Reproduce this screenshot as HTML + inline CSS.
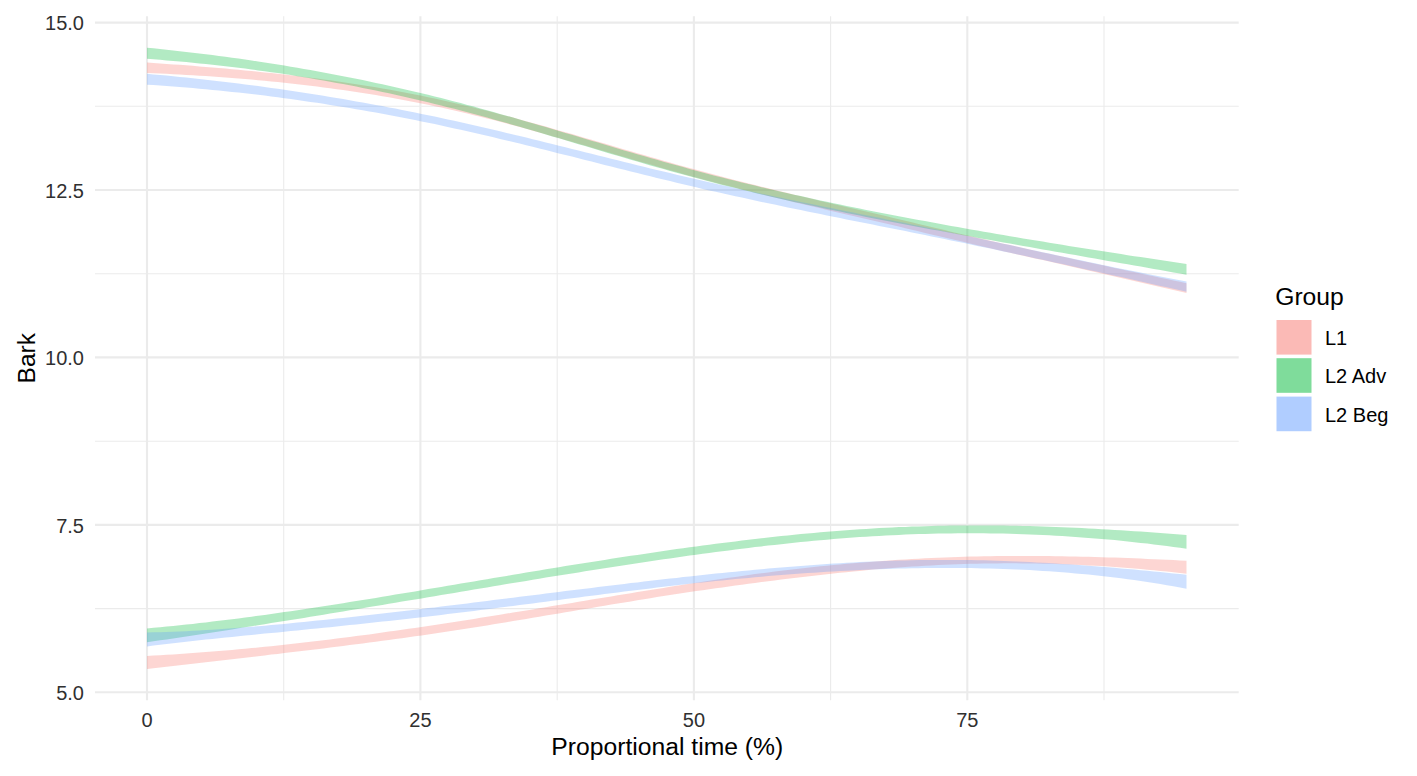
<!DOCTYPE html>
<html><head><meta charset="utf-8"><style>
html,body{margin:0;padding:0;background:#fff;width:1417px;height:776px;overflow:hidden}
svg{display:block;font-family:"Liberation Sans",sans-serif}
</style></head><body>
<svg width="1417" height="776" viewBox="0 0 1417 776">
<rect width="1417" height="776" fill="#fff"/>
<line x1="95.0" x2="1238.7" y1="106.3" y2="106.3" stroke="#EBEBEB" stroke-width="1.1"/>
<line x1="95.0" x2="1238.7" y1="273.7" y2="273.7" stroke="#EBEBEB" stroke-width="1.1"/>
<line x1="95.0" x2="1238.7" y1="441.2" y2="441.2" stroke="#EBEBEB" stroke-width="1.1"/>
<line x1="95.0" x2="1238.7" y1="608.6" y2="608.6" stroke="#EBEBEB" stroke-width="1.1"/>
<line x1="283.7" x2="283.7" y1="16.2" y2="700.3" stroke="#EBEBEB" stroke-width="1.1"/>
<line x1="557.2" x2="557.2" y1="16.2" y2="700.3" stroke="#EBEBEB" stroke-width="1.1"/>
<line x1="830.6" x2="830.6" y1="16.2" y2="700.3" stroke="#EBEBEB" stroke-width="1.1"/>
<line x1="1104.0" x2="1104.0" y1="16.2" y2="700.3" stroke="#EBEBEB" stroke-width="1.1"/>
<line x1="95.0" x2="1238.7" y1="22.6" y2="22.6" stroke="#EBEBEB" stroke-width="2.1"/>
<line x1="95.0" x2="1238.7" y1="190.0" y2="190.0" stroke="#EBEBEB" stroke-width="2.1"/>
<line x1="95.0" x2="1238.7" y1="357.4" y2="357.4" stroke="#EBEBEB" stroke-width="2.1"/>
<line x1="95.0" x2="1238.7" y1="524.9" y2="524.9" stroke="#EBEBEB" stroke-width="2.1"/>
<line x1="95.0" x2="1238.7" y1="692.2" y2="692.2" stroke="#EBEBEB" stroke-width="2.1"/>
<line x1="147.0" x2="147.0" y1="16.2" y2="700.3" stroke="#EBEBEB" stroke-width="2.1"/>
<line x1="420.4" x2="420.4" y1="16.2" y2="700.3" stroke="#EBEBEB" stroke-width="2.1"/>
<line x1="693.9" x2="693.9" y1="16.2" y2="700.3" stroke="#EBEBEB" stroke-width="2.1"/>
<line x1="967.3" x2="967.3" y1="16.2" y2="700.3" stroke="#EBEBEB" stroke-width="2.1"/>
<path d="M147.0,62.5 L153.5,63.0 L160.1,63.4 L166.6,63.9 L173.2,64.4 L179.7,64.8 L186.2,65.3 L192.8,65.8 L199.3,66.4 L205.8,66.9 L212.4,67.5 L218.9,68.0 L225.5,68.6 L232.0,69.2 L238.5,69.8 L245.1,70.4 L251.6,71.1 L258.1,71.7 L264.7,72.4 L271.2,73.1 L277.8,73.8 L284.3,74.5 L290.8,75.3 L297.4,76.1 L303.9,76.9 L310.4,77.7 L317.0,78.6 L323.5,79.4 L330.1,80.3 L336.6,81.2 L343.1,82.2 L349.7,83.2 L356.2,84.2 L362.7,85.2 L369.3,86.3 L375.8,87.3 L382.4,88.5 L388.9,89.6 L395.4,90.8 L402.0,92.0 L408.5,93.2 L415.0,94.5 L421.6,95.8 L428.1,97.2 L434.7,98.5 L441.2,99.9 L447.7,101.4 L454.3,102.9 L460.8,104.4 L467.3,106.0 L473.9,107.5 L480.4,109.2 L487.0,110.8 L493.5,112.5 L500.0,114.2 L506.6,115.9 L513.1,117.6 L519.7,119.4 L526.2,121.2 L532.7,123.0 L539.3,124.8 L545.8,126.6 L552.3,128.5 L558.9,130.4 L565.4,132.2 L572.0,134.1 L578.5,136.0 L585.0,137.9 L591.6,139.8 L598.1,141.7 L604.6,143.6 L611.2,145.6 L617.7,147.5 L624.3,149.4 L630.8,151.3 L637.3,153.2 L643.9,155.1 L650.4,157.0 L656.9,158.8 L663.5,160.7 L670.0,162.6 L676.6,164.4 L683.1,166.2 L689.6,168.0 L696.2,169.8 L702.7,171.6 L709.2,173.3 L715.8,175.1 L722.3,176.8 L728.9,178.5 L735.4,180.2 L741.9,181.8 L748.5,183.5 L755.0,185.1 L761.5,186.7 L768.1,188.3 L774.6,189.9 L781.2,191.5 L787.7,193.1 L794.2,194.7 L800.8,196.2 L807.3,197.8 L813.8,199.3 L820.4,200.9 L826.9,202.4 L833.5,203.9 L840.0,205.5 L846.5,207.0 L853.1,208.5 L859.6,210.0 L866.2,211.6 L872.7,213.1 L879.2,214.6 L885.8,216.1 L892.3,217.7 L898.8,219.2 L905.4,220.8 L911.9,222.3 L918.5,223.9 L925.0,225.5 L931.5,227.0 L938.1,228.6 L944.6,230.1 L951.1,231.7 L957.7,233.2 L964.2,234.7 L970.8,236.2 L977.3,237.7 L983.8,239.2 L990.4,240.7 L996.9,242.2 L1003.4,243.7 L1010.0,245.1 L1016.5,246.6 L1023.1,248.0 L1029.6,249.5 L1036.1,250.9 L1042.7,252.4 L1049.2,253.8 L1055.7,255.2 L1062.3,256.6 L1068.8,258.1 L1075.4,259.5 L1081.9,260.9 L1088.4,262.3 L1095.0,263.7 L1101.5,265.1 L1108.0,266.5 L1114.6,267.9 L1121.1,269.3 L1127.7,270.7 L1134.2,272.1 L1140.7,273.5 L1147.3,274.9 L1153.8,276.3 L1160.3,277.7 L1166.9,279.0 L1173.4,280.4 L1180.0,281.8 L1186.5,283.2 L1186.5,293.1 L1180.0,291.6 L1173.4,290.0 L1166.9,288.5 L1160.3,287.0 L1153.8,285.5 L1147.3,283.9 L1140.7,282.4 L1134.2,280.9 L1127.7,279.4 L1121.1,277.9 L1114.6,276.4 L1108.0,274.9 L1101.5,273.5 L1095.0,272.0 L1088.4,270.5 L1081.9,269.0 L1075.4,267.5 L1068.8,266.0 L1062.3,264.6 L1055.7,263.1 L1049.2,261.6 L1042.7,260.1 L1036.1,258.7 L1029.6,257.2 L1023.1,255.7 L1016.5,254.2 L1010.0,252.7 L1003.4,251.2 L996.9,249.7 L990.4,248.2 L983.8,246.7 L977.3,245.2 L970.8,243.7 L964.2,242.1 L957.7,240.6 L951.1,239.1 L944.6,237.5 L938.1,236.0 L931.5,234.4 L925.0,232.9 L918.5,231.3 L911.9,229.7 L905.4,228.2 L898.8,226.6 L892.3,225.1 L885.8,223.5 L879.2,222.0 L872.7,220.5 L866.2,219.0 L859.6,217.4 L853.1,215.9 L846.5,214.4 L840.0,212.9 L833.5,211.4 L826.9,209.9 L820.4,208.3 L813.8,206.8 L807.3,205.3 L800.8,203.7 L794.2,202.2 L787.7,200.6 L781.2,199.0 L774.6,197.5 L768.1,195.9 L761.5,194.3 L755.0,192.7 L748.5,191.0 L741.9,189.4 L735.4,187.8 L728.9,186.1 L722.3,184.4 L715.8,182.7 L709.2,181.0 L702.7,179.2 L696.2,177.5 L689.6,175.7 L683.1,173.9 L676.6,172.1 L670.0,170.2 L663.5,168.4 L656.9,166.5 L650.4,164.6 L643.9,162.8 L637.3,160.9 L630.8,159.0 L624.3,157.1 L617.7,155.2 L611.2,153.2 L604.6,151.3 L598.1,149.4 L591.6,147.5 L585.0,145.6 L578.5,143.7 L572.0,141.8 L565.4,139.9 L558.9,138.0 L552.3,136.2 L545.8,134.3 L539.3,132.5 L532.7,130.7 L526.2,128.8 L519.7,127.1 L513.1,125.3 L506.6,123.5 L500.0,121.8 L493.5,120.1 L487.0,118.4 L480.4,116.8 L473.9,115.2 L467.3,113.6 L460.8,112.1 L454.3,110.5 L447.7,109.1 L441.2,107.6 L434.7,106.2 L428.1,104.8 L421.6,103.5 L415.0,102.2 L408.5,100.9 L402.0,99.7 L395.4,98.5 L388.9,97.3 L382.4,96.2 L375.8,95.1 L369.3,94.0 L362.7,93.0 L356.2,92.0 L349.7,91.0 L343.1,90.1 L336.6,89.2 L330.1,88.3 L323.5,87.4 L317.0,86.6 L310.4,85.8 L303.9,85.0 L297.4,84.2 L290.8,83.5 L284.3,82.8 L277.8,82.1 L271.2,81.5 L264.7,80.8 L258.1,80.2 L251.6,79.6 L245.1,79.1 L238.5,78.5 L232.0,78.0 L225.5,77.5 L218.9,77.0 L212.4,76.6 L205.8,76.1 L199.3,75.7 L192.8,75.3 L186.2,74.9 L179.7,74.5 L173.2,74.2 L166.6,73.8 L160.1,73.5 L153.5,73.2 L147.0,72.9Z" fill="#F8766D" fill-opacity="0.3"/>
<path d="M147.0,47.7 L153.5,48.3 L160.1,49.0 L166.6,49.7 L173.2,50.4 L179.7,51.2 L186.2,51.9 L192.8,52.7 L199.3,53.5 L205.8,54.3 L212.4,55.1 L218.9,56.0 L225.5,56.8 L232.0,57.7 L238.5,58.6 L245.1,59.6 L251.6,60.5 L258.1,61.5 L264.7,62.5 L271.2,63.5 L277.8,64.6 L284.3,65.6 L290.8,66.7 L297.4,67.8 L303.9,68.9 L310.4,70.1 L317.0,71.3 L323.5,72.5 L330.1,73.7 L336.6,74.9 L343.1,76.2 L349.7,77.5 L356.2,78.8 L362.7,80.1 L369.3,81.5 L375.8,82.9 L382.4,84.3 L388.9,85.7 L395.4,87.2 L402.0,88.7 L408.5,90.2 L415.0,91.7 L421.6,93.3 L428.1,94.8 L434.7,96.4 L441.2,98.1 L447.7,99.7 L454.3,101.4 L460.8,103.1 L467.3,104.9 L473.9,106.6 L480.4,108.4 L487.0,110.2 L493.5,112.0 L500.0,113.9 L506.6,115.7 L513.1,117.6 L519.7,119.5 L526.2,121.4 L532.7,123.3 L539.3,125.2 L545.8,127.1 L552.3,129.0 L558.9,131.0 L565.4,132.9 L572.0,134.8 L578.5,136.8 L585.0,138.7 L591.6,140.7 L598.1,142.6 L604.6,144.6 L611.2,146.5 L617.7,148.4 L624.3,150.4 L630.8,152.3 L637.3,154.2 L643.9,156.1 L650.4,158.0 L656.9,159.8 L663.5,161.7 L670.0,163.5 L676.6,165.3 L683.1,167.1 L689.6,168.9 L696.2,170.7 L702.7,172.4 L709.2,174.2 L715.8,175.9 L722.3,177.5 L728.9,179.2 L735.4,180.8 L741.9,182.4 L748.5,184.0 L755.0,185.6 L761.5,187.2 L768.1,188.7 L774.6,190.2 L781.2,191.7 L787.7,193.2 L794.2,194.7 L800.8,196.1 L807.3,197.6 L813.8,199.0 L820.4,200.4 L826.9,201.8 L833.5,203.2 L840.0,204.5 L846.5,205.9 L853.1,207.2 L859.6,208.5 L866.2,209.9 L872.7,211.2 L879.2,212.4 L885.8,213.7 L892.3,215.0 L898.8,216.2 L905.4,217.5 L911.9,218.7 L918.5,219.9 L925.0,221.1 L931.5,222.3 L938.1,223.5 L944.6,224.7 L951.1,225.9 L957.7,227.1 L964.2,228.2 L970.8,229.4 L977.3,230.5 L983.8,231.7 L990.4,232.8 L996.9,233.9 L1003.4,235.1 L1010.0,236.2 L1016.5,237.3 L1023.1,238.4 L1029.6,239.5 L1036.1,240.6 L1042.7,241.6 L1049.2,242.7 L1055.7,243.8 L1062.3,244.8 L1068.8,245.9 L1075.4,246.9 L1081.9,248.0 L1088.4,249.0 L1095.0,250.1 L1101.5,251.1 L1108.0,252.1 L1114.6,253.1 L1121.1,254.1 L1127.7,255.2 L1134.2,256.2 L1140.7,257.1 L1147.3,258.1 L1153.8,259.1 L1160.3,260.1 L1166.9,261.1 L1173.4,262.1 L1180.0,263.0 L1186.5,264.0 L1186.5,274.8 L1180.0,273.6 L1173.4,272.4 L1166.9,271.3 L1160.3,270.1 L1153.8,268.9 L1147.3,267.8 L1140.7,266.6 L1134.2,265.5 L1127.7,264.3 L1121.1,263.2 L1114.6,262.0 L1108.0,260.9 L1101.5,259.7 L1095.0,258.6 L1088.4,257.4 L1081.9,256.3 L1075.4,255.1 L1068.8,254.0 L1062.3,252.8 L1055.7,251.7 L1049.2,250.5 L1042.7,249.4 L1036.1,248.2 L1029.6,247.1 L1023.1,245.9 L1016.5,244.8 L1010.0,243.6 L1003.4,242.4 L996.9,241.3 L990.4,240.1 L983.8,238.9 L977.3,237.7 L970.8,236.6 L964.2,235.4 L957.7,234.2 L951.1,233.0 L944.6,231.8 L938.1,230.6 L931.5,229.4 L925.0,228.2 L918.5,226.9 L911.9,225.7 L905.4,224.5 L898.8,223.2 L892.3,222.0 L885.8,220.7 L879.2,219.4 L872.7,218.2 L866.2,216.9 L859.6,215.6 L853.1,214.3 L846.5,212.9 L840.0,211.6 L833.5,210.3 L826.9,208.9 L820.4,207.5 L813.8,206.1 L807.3,204.7 L800.8,203.3 L794.2,201.9 L787.7,200.4 L781.2,198.9 L774.6,197.5 L768.1,195.9 L761.5,194.4 L755.0,192.9 L748.5,191.3 L741.9,189.7 L735.4,188.1 L728.9,186.5 L722.3,184.9 L715.8,183.2 L709.2,181.5 L702.7,179.8 L696.2,178.1 L689.6,176.3 L683.1,174.5 L676.6,172.7 L670.0,170.9 L663.5,169.1 L656.9,167.2 L650.4,165.4 L643.9,163.5 L637.3,161.6 L630.8,159.7 L624.3,157.8 L617.7,155.8 L611.2,153.9 L604.6,152.0 L598.1,150.0 L591.6,148.1 L585.0,146.1 L578.5,144.2 L572.0,142.2 L565.4,140.3 L558.9,138.3 L552.3,136.4 L545.8,134.5 L539.3,132.5 L532.7,130.6 L526.2,128.7 L519.7,126.8 L513.1,125.0 L506.6,123.1 L500.0,121.2 L493.5,119.4 L487.0,117.6 L480.4,115.8 L473.9,114.0 L467.3,112.3 L460.8,110.5 L454.3,108.8 L447.7,107.2 L441.2,105.5 L434.7,103.9 L428.1,102.3 L421.6,100.7 L415.0,99.2 L408.5,97.7 L402.0,96.2 L395.4,94.8 L388.9,93.3 L382.4,91.9 L375.8,90.6 L369.3,89.2 L362.7,87.9 L356.2,86.6 L349.7,85.3 L343.1,84.1 L336.6,82.9 L330.1,81.7 L323.5,80.5 L317.0,79.4 L310.4,78.3 L303.9,77.2 L297.4,76.2 L290.8,75.1 L284.3,74.1 L277.8,73.1 L271.2,72.2 L264.7,71.3 L258.1,70.4 L251.6,69.5 L245.1,68.6 L238.5,67.8 L232.0,67.0 L225.5,66.2 L218.9,65.5 L212.4,64.8 L205.8,64.1 L199.3,63.4 L192.8,62.7 L186.2,62.1 L179.7,61.5 L173.2,60.9 L166.6,60.4 L160.1,59.8 L153.5,59.3 L147.0,58.8Z" fill="#00BA38" fill-opacity="0.3"/>
<path d="M147.0,73.8 L153.5,74.4 L160.1,75.0 L166.6,75.6 L173.2,76.2 L179.7,76.9 L186.2,77.6 L192.8,78.3 L199.3,79.0 L205.8,79.7 L212.4,80.4 L218.9,81.2 L225.5,82.0 L232.0,82.8 L238.5,83.6 L245.1,84.4 L251.6,85.3 L258.1,86.1 L264.7,87.0 L271.2,87.9 L277.8,88.8 L284.3,89.8 L290.8,90.7 L297.4,91.7 L303.9,92.7 L310.4,93.7 L317.0,94.8 L323.5,95.8 L330.1,96.9 L336.6,98.0 L343.1,99.1 L349.7,100.2 L356.2,101.4 L362.7,102.5 L369.3,103.7 L375.8,104.9 L382.4,106.1 L388.9,107.4 L395.4,108.6 L402.0,109.9 L408.5,111.2 L415.0,112.5 L421.6,113.9 L428.1,115.2 L434.7,116.6 L441.2,118.0 L447.7,119.4 L454.3,120.8 L460.8,122.3 L467.3,123.8 L473.9,125.3 L480.4,126.8 L487.0,128.3 L493.5,129.8 L500.0,131.3 L506.6,132.9 L513.1,134.5 L519.7,136.0 L526.2,137.6 L532.7,139.2 L539.3,140.8 L545.8,142.4 L552.3,144.1 L558.9,145.7 L565.4,147.3 L572.0,148.9 L578.5,150.6 L585.0,152.2 L591.6,153.8 L598.1,155.5 L604.6,157.1 L611.2,158.7 L617.7,160.3 L624.3,162.0 L630.8,163.6 L637.3,165.2 L643.9,166.8 L650.4,168.4 L656.9,170.0 L663.5,171.6 L670.0,173.1 L676.6,174.7 L683.1,176.2 L689.6,177.8 L696.2,179.3 L702.7,180.8 L709.2,182.3 L715.8,183.7 L722.3,185.2 L728.9,186.6 L735.4,188.1 L741.9,189.5 L748.5,190.9 L755.0,192.3 L761.5,193.7 L768.1,195.1 L774.6,196.5 L781.2,197.8 L787.7,199.2 L794.2,200.6 L800.8,201.9 L807.3,203.3 L813.8,204.6 L820.4,205.9 L826.9,207.3 L833.5,208.6 L840.0,209.9 L846.5,211.2 L853.1,212.6 L859.6,213.9 L866.2,215.2 L872.7,216.5 L879.2,217.8 L885.8,219.2 L892.3,220.5 L898.8,221.8 L905.4,223.1 L911.9,224.5 L918.5,225.8 L925.0,227.1 L931.5,228.5 L938.1,229.8 L944.6,231.2 L951.1,232.6 L957.7,234.0 L964.2,235.3 L970.8,236.7 L977.3,238.1 L983.8,239.5 L990.4,240.9 L996.9,242.3 L1003.4,243.7 L1010.0,245.1 L1016.5,246.6 L1023.1,248.0 L1029.6,249.4 L1036.1,250.8 L1042.7,252.2 L1049.2,253.6 L1055.7,255.0 L1062.3,256.4 L1068.8,257.8 L1075.4,259.2 L1081.9,260.6 L1088.4,261.9 L1095.0,263.3 L1101.5,264.7 L1108.0,266.0 L1114.6,267.4 L1121.1,268.7 L1127.7,270.0 L1134.2,271.3 L1140.7,272.6 L1147.3,273.9 L1153.8,275.2 L1160.3,276.5 L1166.9,277.7 L1173.4,278.9 L1180.0,280.2 L1186.5,281.4 L1186.5,291.7 L1180.0,290.3 L1173.4,288.8 L1166.9,287.3 L1160.3,285.9 L1153.8,284.4 L1147.3,282.9 L1140.7,281.5 L1134.2,280.0 L1127.7,278.6 L1121.1,277.1 L1114.6,275.7 L1108.0,274.2 L1101.5,272.8 L1095.0,271.3 L1088.4,269.9 L1081.9,268.4 L1075.4,267.0 L1068.8,265.6 L1062.3,264.1 L1055.7,262.7 L1049.2,261.3 L1042.7,259.8 L1036.1,258.4 L1029.6,257.0 L1023.1,255.6 L1016.5,254.2 L1010.0,252.8 L1003.4,251.4 L996.9,250.0 L990.4,248.6 L983.8,247.3 L977.3,245.9 L970.8,244.5 L964.2,243.1 L957.7,241.8 L951.1,240.4 L944.6,239.1 L938.1,237.8 L931.5,236.4 L925.0,235.1 L918.5,233.8 L911.9,232.5 L905.4,231.1 L898.8,229.8 L892.3,228.5 L885.8,227.2 L879.2,225.9 L872.7,224.6 L866.2,223.3 L859.6,222.0 L853.1,220.7 L846.5,219.4 L840.0,218.1 L833.5,216.7 L826.9,215.4 L820.4,214.1 L813.8,212.8 L807.3,211.4 L800.8,210.1 L794.2,208.7 L787.7,207.4 L781.2,206.0 L774.6,204.6 L768.1,203.3 L761.5,201.9 L755.0,200.5 L748.5,199.1 L741.9,197.6 L735.4,196.2 L728.9,194.8 L722.3,193.3 L715.8,191.8 L709.2,190.4 L702.7,188.9 L696.2,187.3 L689.6,185.8 L683.1,184.3 L676.6,182.7 L670.0,181.1 L663.5,179.5 L656.9,177.9 L650.4,176.3 L643.9,174.7 L637.3,173.1 L630.8,171.5 L624.3,169.8 L617.7,168.2 L611.2,166.5 L604.6,164.9 L598.1,163.2 L591.6,161.6 L585.0,159.9 L578.5,158.3 L572.0,156.6 L565.4,155.0 L558.9,153.4 L552.3,151.7 L545.8,150.1 L539.3,148.5 L532.7,146.8 L526.2,145.2 L519.7,143.6 L513.1,142.0 L506.6,140.5 L500.0,138.9 L493.5,137.3 L487.0,135.8 L480.4,134.3 L473.9,132.8 L467.3,131.3 L460.8,129.8 L454.3,128.4 L447.7,126.9 L441.2,125.5 L434.7,124.1 L428.1,122.8 L421.6,121.4 L415.0,120.1 L408.5,118.8 L402.0,117.5 L395.4,116.3 L388.9,115.0 L382.4,113.8 L375.8,112.6 L369.3,111.4 L362.7,110.3 L356.2,109.2 L349.7,108.0 L343.1,107.0 L336.6,105.9 L330.1,104.9 L323.5,103.8 L317.0,102.8 L310.4,101.9 L303.9,100.9 L297.4,100.0 L290.8,99.1 L284.3,98.2 L277.8,97.3 L271.2,96.5 L264.7,95.6 L258.1,94.8 L251.6,94.1 L245.1,93.3 L238.5,92.6 L232.0,91.9 L225.5,91.2 L218.9,90.5 L212.4,89.9 L205.8,89.3 L199.3,88.7 L192.8,88.1 L186.2,87.5 L179.7,87.0 L173.2,86.5 L166.6,86.0 L160.1,85.5 L153.5,85.1 L147.0,84.7Z" fill="#619CFF" fill-opacity="0.3"/>
<path d="M147.0,655.9 L153.5,655.5 L160.1,655.2 L166.6,654.8 L173.2,654.4 L179.7,654.0 L186.2,653.5 L192.8,653.1 L199.3,652.6 L205.8,652.1 L212.4,651.6 L218.9,651.1 L225.5,650.5 L232.0,649.9 L238.5,649.3 L245.1,648.7 L251.6,648.1 L258.1,647.5 L264.7,646.8 L271.2,646.2 L277.8,645.5 L284.3,644.8 L290.8,644.1 L297.4,643.3 L303.9,642.6 L310.4,641.8 L317.0,641.0 L323.5,640.2 L330.1,639.4 L336.6,638.6 L343.1,637.8 L349.7,637.0 L356.2,636.1 L362.7,635.2 L369.3,634.4 L375.8,633.5 L382.4,632.6 L388.9,631.6 L395.4,630.7 L402.0,629.8 L408.5,628.8 L415.0,627.9 L421.6,626.9 L428.1,625.9 L434.7,625.0 L441.2,624.0 L447.7,623.0 L454.3,622.0 L460.8,620.9 L467.3,619.9 L473.9,618.9 L480.4,617.8 L487.0,616.8 L493.5,615.8 L500.0,614.7 L506.6,613.6 L513.1,612.6 L519.7,611.5 L526.2,610.4 L532.7,609.4 L539.3,608.3 L545.8,607.2 L552.3,606.1 L558.9,605.0 L565.4,604.0 L572.0,602.9 L578.5,601.8 L585.0,600.7 L591.6,599.6 L598.1,598.5 L604.6,597.5 L611.2,596.4 L617.7,595.3 L624.3,594.2 L630.8,593.2 L637.3,592.1 L643.9,591.0 L650.4,590.0 L656.9,588.9 L663.5,587.9 L670.0,586.8 L676.6,585.8 L683.1,584.8 L689.6,583.8 L696.2,582.7 L702.7,581.7 L709.2,580.7 L715.8,579.8 L722.3,578.8 L728.9,577.8 L735.4,576.9 L741.9,575.9 L748.5,575.0 L755.0,574.1 L761.5,573.2 L768.1,572.4 L774.6,571.5 L781.2,570.7 L787.7,569.9 L794.2,569.2 L800.8,568.4 L807.3,567.7 L813.8,567.0 L820.4,566.3 L826.9,565.7 L833.5,565.0 L840.0,564.4 L846.5,563.8 L853.1,563.2 L859.6,562.7 L866.2,562.2 L872.7,561.7 L879.2,561.2 L885.8,560.7 L892.3,560.2 L898.8,559.8 L905.4,559.4 L911.9,559.0 L918.5,558.7 L925.0,558.3 L931.5,558.0 L938.1,557.7 L944.6,557.5 L951.1,557.2 L957.7,557.0 L964.2,556.8 L970.8,556.6 L977.3,556.5 L983.8,556.3 L990.4,556.2 L996.9,556.1 L1003.4,556.1 L1010.0,556.0 L1016.5,556.0 L1023.1,556.0 L1029.6,556.0 L1036.1,556.0 L1042.7,556.1 L1049.2,556.1 L1055.7,556.2 L1062.3,556.3 L1068.8,556.4 L1075.4,556.5 L1081.9,556.7 L1088.4,556.8 L1095.0,557.0 L1101.5,557.2 L1108.0,557.4 L1114.6,557.6 L1121.1,557.8 L1127.7,558.1 L1134.2,558.3 L1140.7,558.6 L1147.3,558.9 L1153.8,559.2 L1160.3,559.5 L1166.9,559.8 L1173.4,560.1 L1180.0,560.4 L1186.5,560.7 L1186.5,573.8 L1180.0,573.1 L1173.4,572.3 L1166.9,571.6 L1160.3,570.9 L1153.8,570.3 L1147.3,569.7 L1140.7,569.1 L1134.2,568.5 L1127.7,568.0 L1121.1,567.5 L1114.6,567.0 L1108.0,566.5 L1101.5,566.1 L1095.0,565.7 L1088.4,565.4 L1081.9,565.0 L1075.4,564.7 L1068.8,564.5 L1062.3,564.2 L1055.7,564.0 L1049.2,563.8 L1042.7,563.7 L1036.1,563.5 L1029.6,563.4 L1023.1,563.4 L1016.5,563.3 L1010.0,563.3 L1003.4,563.3 L996.9,563.4 L990.4,563.4 L983.8,563.6 L977.3,563.7 L970.8,563.8 L964.2,564.0 L957.7,564.3 L951.1,564.5 L944.6,564.8 L938.1,565.1 L931.5,565.4 L925.0,565.8 L918.5,566.2 L911.9,566.6 L905.4,567.0 L898.8,567.5 L892.3,568.0 L885.8,568.5 L879.2,569.1 L872.7,569.6 L866.2,570.2 L859.6,570.9 L853.1,571.5 L846.5,572.2 L840.0,572.8 L833.5,573.5 L826.9,574.2 L820.4,575.0 L813.8,575.7 L807.3,576.5 L800.8,577.3 L794.2,578.1 L787.7,578.8 L781.2,579.6 L774.6,580.5 L768.1,581.3 L761.5,582.1 L755.0,583.0 L748.5,583.8 L741.9,584.7 L735.4,585.6 L728.9,586.5 L722.3,587.4 L715.8,588.3 L709.2,589.2 L702.7,590.2 L696.2,591.1 L689.6,592.1 L683.1,593.1 L676.6,594.1 L670.0,595.1 L663.5,596.1 L656.9,597.1 L650.4,598.2 L643.9,599.2 L637.3,600.3 L630.8,601.4 L624.3,602.4 L617.7,603.5 L611.2,604.6 L604.6,605.7 L598.1,606.8 L591.6,607.9 L585.0,609.0 L578.5,610.1 L572.0,611.2 L565.4,612.3 L558.9,613.4 L552.3,614.5 L545.8,615.6 L539.3,616.7 L532.7,617.8 L526.2,618.9 L519.7,620.0 L513.1,621.1 L506.6,622.2 L500.0,623.3 L493.5,624.3 L487.0,625.4 L480.4,626.4 L473.9,627.5 L467.3,628.5 L460.8,629.5 L454.3,630.5 L447.7,631.5 L441.2,632.5 L434.7,633.5 L428.1,634.4 L421.6,635.4 L415.0,636.3 L408.5,637.2 L402.0,638.2 L395.4,639.1 L388.9,640.0 L382.4,640.8 L375.8,641.7 L369.3,642.6 L362.7,643.4 L356.2,644.3 L349.7,645.1 L343.1,645.9 L336.6,646.8 L330.1,647.6 L323.5,648.4 L317.0,649.2 L310.4,650.0 L303.9,650.8 L297.4,651.6 L290.8,652.3 L284.3,653.1 L277.8,653.9 L271.2,654.6 L264.7,655.4 L258.1,656.2 L251.6,656.9 L245.1,657.7 L238.5,658.4 L232.0,659.2 L225.5,659.9 L218.9,660.7 L212.4,661.4 L205.8,662.2 L199.3,662.9 L192.8,663.7 L186.2,664.4 L179.7,665.2 L173.2,665.9 L166.6,666.7 L160.1,667.4 L153.5,668.2 L147.0,668.9Z" fill="#F8766D" fill-opacity="0.3"/>
<path d="M147.0,628.4 L153.5,627.8 L160.1,627.2 L166.6,626.6 L173.2,625.9 L179.7,625.2 L186.2,624.6 L192.8,623.9 L199.3,623.1 L205.8,622.4 L212.4,621.6 L218.9,620.8 L225.5,620.0 L232.0,619.2 L238.5,618.4 L245.1,617.5 L251.6,616.7 L258.1,615.8 L264.7,614.9 L271.2,614.0 L277.8,613.1 L284.3,612.1 L290.8,611.2 L297.4,610.2 L303.9,609.2 L310.4,608.2 L317.0,607.2 L323.5,606.2 L330.1,605.2 L336.6,604.2 L343.1,603.2 L349.7,602.1 L356.2,601.1 L362.7,600.0 L369.3,599.0 L375.8,597.9 L382.4,596.8 L388.9,595.7 L395.4,594.6 L402.0,593.5 L408.5,592.5 L415.0,591.4 L421.6,590.3 L428.1,589.1 L434.7,588.0 L441.2,586.9 L447.7,585.8 L454.3,584.7 L460.8,583.6 L467.3,582.5 L473.9,581.4 L480.4,580.3 L487.0,579.2 L493.5,578.1 L500.0,577.0 L506.6,575.9 L513.1,574.8 L519.7,573.7 L526.2,572.6 L532.7,571.5 L539.3,570.4 L545.8,569.3 L552.3,568.3 L558.9,567.2 L565.4,566.1 L572.0,565.1 L578.5,564.0 L585.0,563.0 L591.6,561.9 L598.1,560.9 L604.6,559.9 L611.2,558.8 L617.7,557.8 L624.3,556.8 L630.8,555.8 L637.3,554.9 L643.9,553.9 L650.4,552.9 L656.9,552.0 L663.5,551.0 L670.0,550.1 L676.6,549.1 L683.1,548.2 L689.6,547.3 L696.2,546.4 L702.7,545.6 L709.2,544.7 L715.8,543.8 L722.3,543.0 L728.9,542.2 L735.4,541.4 L741.9,540.6 L748.5,539.8 L755.0,539.0 L761.5,538.3 L768.1,537.5 L774.6,536.8 L781.2,536.1 L787.7,535.4 L794.2,534.8 L800.8,534.1 L807.3,533.5 L813.8,532.9 L820.4,532.3 L826.9,531.8 L833.5,531.2 L840.0,530.7 L846.5,530.2 L853.1,529.8 L859.6,529.3 L866.2,528.9 L872.7,528.5 L879.2,528.1 L885.8,527.8 L892.3,527.4 L898.8,527.1 L905.4,526.9 L911.9,526.6 L918.5,526.4 L925.0,526.2 L931.5,526.0 L938.1,525.8 L944.6,525.7 L951.1,525.6 L957.7,525.5 L964.2,525.5 L970.8,525.4 L977.3,525.4 L983.8,525.4 L990.4,525.5 L996.9,525.5 L1003.4,525.6 L1010.0,525.7 L1016.5,525.8 L1023.1,526.0 L1029.6,526.1 L1036.1,526.3 L1042.7,526.5 L1049.2,526.8 L1055.7,527.0 L1062.3,527.3 L1068.8,527.5 L1075.4,527.8 L1081.9,528.1 L1088.4,528.5 L1095.0,528.8 L1101.5,529.2 L1108.0,529.6 L1114.6,529.9 L1121.1,530.3 L1127.7,530.8 L1134.2,531.2 L1140.7,531.6 L1147.3,532.1 L1153.8,532.6 L1160.3,533.1 L1166.9,533.6 L1173.4,534.1 L1180.0,534.6 L1186.5,535.1 L1186.5,548.7 L1180.0,547.8 L1173.4,546.9 L1166.9,546.1 L1160.3,545.2 L1153.8,544.4 L1147.3,543.6 L1140.7,542.9 L1134.2,542.2 L1127.7,541.5 L1121.1,540.8 L1114.6,540.1 L1108.0,539.5 L1101.5,539.0 L1095.0,538.4 L1088.4,537.9 L1081.9,537.4 L1075.4,536.9 L1068.8,536.5 L1062.3,536.1 L1055.7,535.7 L1049.2,535.3 L1042.7,535.0 L1036.1,534.7 L1029.6,534.4 L1023.1,534.2 L1016.5,534.0 L1010.0,533.8 L1003.4,533.6 L996.9,533.5 L990.4,533.4 L983.8,533.3 L977.3,533.3 L970.8,533.2 L964.2,533.3 L957.7,533.3 L951.1,533.4 L944.6,533.4 L938.1,533.6 L931.5,533.7 L925.0,533.9 L918.5,534.1 L911.9,534.3 L905.4,534.6 L898.8,534.9 L892.3,535.2 L885.8,535.5 L879.2,535.9 L872.7,536.3 L866.2,536.7 L859.6,537.1 L853.1,537.6 L846.5,538.1 L840.0,538.6 L833.5,539.1 L826.9,539.7 L820.4,540.2 L813.8,540.8 L807.3,541.5 L800.8,542.1 L794.2,542.8 L787.7,543.5 L781.2,544.2 L774.6,544.9 L768.1,545.6 L761.5,546.4 L755.0,547.1 L748.5,547.9 L741.9,548.7 L735.4,549.6 L728.9,550.4 L722.3,551.2 L715.8,552.1 L709.2,553.0 L702.7,553.8 L696.2,554.7 L689.6,555.6 L683.1,556.5 L676.6,557.5 L670.0,558.4 L663.5,559.3 L656.9,560.3 L650.4,561.3 L643.9,562.2 L637.3,563.2 L630.8,564.2 L624.3,565.2 L617.7,566.2 L611.2,567.2 L604.6,568.2 L598.1,569.2 L591.6,570.3 L585.0,571.3 L578.5,572.4 L572.0,573.4 L565.4,574.5 L558.9,575.5 L552.3,576.6 L545.8,577.6 L539.3,578.7 L532.7,579.8 L526.2,580.9 L519.7,581.9 L513.1,583.0 L506.6,584.1 L500.0,585.2 L493.5,586.3 L487.0,587.4 L480.4,588.5 L473.9,589.6 L467.3,590.7 L460.8,591.8 L454.3,592.9 L447.7,594.0 L441.2,595.1 L434.7,596.2 L428.1,597.3 L421.6,598.4 L415.0,599.4 L408.5,600.5 L402.0,601.6 L395.4,602.7 L388.9,603.8 L382.4,604.9 L375.8,606.0 L369.3,607.1 L362.7,608.2 L356.2,609.3 L349.7,610.3 L343.1,611.4 L336.6,612.5 L330.1,613.6 L323.5,614.7 L317.0,615.7 L310.4,616.8 L303.9,617.9 L297.4,618.9 L290.8,620.0 L284.3,621.0 L277.8,622.1 L271.2,623.1 L264.7,624.2 L258.1,625.2 L251.6,626.3 L245.1,627.3 L238.5,628.3 L232.0,629.4 L225.5,630.4 L218.9,631.4 L212.4,632.4 L205.8,633.4 L199.3,634.4 L192.8,635.4 L186.2,636.4 L179.7,637.4 L173.2,638.4 L166.6,639.4 L160.1,640.3 L153.5,641.3 L147.0,642.3Z" fill="#00BA38" fill-opacity="0.3"/>
<path d="M147.0,632.5 L153.5,632.3 L160.1,632.2 L166.6,632.0 L173.2,631.7 L179.7,631.5 L186.2,631.2 L192.8,630.8 L199.3,630.5 L205.8,630.1 L212.4,629.7 L218.9,629.3 L225.5,628.8 L232.0,628.3 L238.5,627.8 L245.1,627.3 L251.6,626.8 L258.1,626.2 L264.7,625.7 L271.2,625.1 L277.8,624.5 L284.3,623.9 L290.8,623.2 L297.4,622.6 L303.9,621.9 L310.4,621.3 L317.0,620.6 L323.5,619.9 L330.1,619.3 L336.6,618.6 L343.1,617.9 L349.7,617.2 L356.2,616.4 L362.7,615.7 L369.3,615.0 L375.8,614.3 L382.4,613.5 L388.9,612.8 L395.4,612.0 L402.0,611.2 L408.5,610.5 L415.0,609.7 L421.6,608.9 L428.1,608.1 L434.7,607.4 L441.2,606.6 L447.7,605.8 L454.3,605.0 L460.8,604.2 L467.3,603.4 L473.9,602.6 L480.4,601.7 L487.0,600.9 L493.5,600.1 L500.0,599.3 L506.6,598.5 L513.1,597.7 L519.7,596.8 L526.2,596.0 L532.7,595.2 L539.3,594.4 L545.8,593.6 L552.3,592.7 L558.9,591.9 L565.4,591.1 L572.0,590.3 L578.5,589.5 L585.0,588.7 L591.6,587.9 L598.1,587.1 L604.6,586.3 L611.2,585.5 L617.7,584.7 L624.3,583.9 L630.8,583.1 L637.3,582.4 L643.9,581.6 L650.4,580.8 L656.9,580.1 L663.5,579.3 L670.0,578.6 L676.6,577.9 L683.1,577.1 L689.6,576.4 L696.2,575.7 L702.7,575.0 L709.2,574.3 L715.8,573.6 L722.3,573.0 L728.9,572.3 L735.4,571.7 L741.9,571.0 L748.5,570.4 L755.0,569.8 L761.5,569.2 L768.1,568.6 L774.6,568.0 L781.2,567.5 L787.7,566.9 L794.2,566.4 L800.8,565.9 L807.3,565.4 L813.8,564.9 L820.4,564.5 L826.9,564.0 L833.5,563.6 L840.0,563.2 L846.5,562.8 L853.1,562.5 L859.6,562.1 L866.2,561.8 L872.7,561.5 L879.2,561.3 L885.8,561.0 L892.3,560.8 L898.8,560.6 L905.4,560.4 L911.9,560.2 L918.5,560.1 L925.0,560.0 L931.5,559.9 L938.1,559.9 L944.6,559.9 L951.1,559.9 L957.7,559.9 L964.2,560.0 L970.8,560.1 L977.3,560.2 L983.8,560.3 L990.4,560.5 L996.9,560.7 L1003.4,560.9 L1010.0,561.2 L1016.5,561.4 L1023.1,561.7 L1029.6,562.0 L1036.1,562.4 L1042.7,562.7 L1049.2,563.1 L1055.7,563.5 L1062.3,563.9 L1068.8,564.3 L1075.4,564.8 L1081.9,565.2 L1088.4,565.7 L1095.0,566.2 L1101.5,566.7 L1108.0,567.3 L1114.6,567.8 L1121.1,568.4 L1127.7,569.0 L1134.2,569.6 L1140.7,570.2 L1147.3,570.8 L1153.8,571.4 L1160.3,572.1 L1166.9,572.7 L1173.4,573.4 L1180.0,574.1 L1186.5,574.8 L1186.5,588.7 L1180.0,587.5 L1173.4,586.3 L1166.9,585.2 L1160.3,584.1 L1153.8,583.0 L1147.3,582.0 L1140.7,581.0 L1134.2,580.1 L1127.7,579.2 L1121.1,578.3 L1114.6,577.5 L1108.0,576.7 L1101.5,576.0 L1095.0,575.3 L1088.4,574.6 L1081.9,574.0 L1075.4,573.4 L1068.8,572.8 L1062.3,572.3 L1055.7,571.8 L1049.2,571.3 L1042.7,570.9 L1036.1,570.5 L1029.6,570.1 L1023.1,569.8 L1016.5,569.5 L1010.0,569.2 L1003.4,568.9 L996.9,568.7 L990.4,568.5 L983.8,568.4 L977.3,568.3 L970.8,568.1 L964.2,568.1 L957.7,568.0 L951.1,568.0 L944.6,568.0 L938.1,568.0 L931.5,568.1 L925.0,568.1 L918.5,568.2 L911.9,568.3 L905.4,568.5 L898.8,568.6 L892.3,568.8 L885.8,569.0 L879.2,569.3 L872.7,569.5 L866.2,569.8 L859.6,570.1 L853.1,570.4 L846.5,570.7 L840.0,571.1 L833.5,571.4 L826.9,571.8 L820.4,572.2 L813.8,572.7 L807.3,573.1 L800.8,573.6 L794.2,574.0 L787.7,574.5 L781.2,575.1 L774.6,575.6 L768.1,576.1 L761.5,576.7 L755.0,577.3 L748.5,577.9 L741.9,578.5 L735.4,579.1 L728.9,579.7 L722.3,580.4 L715.8,581.1 L709.2,581.7 L702.7,582.4 L696.2,583.1 L689.6,583.8 L683.1,584.6 L676.6,585.3 L670.0,586.1 L663.5,586.8 L656.9,587.6 L650.4,588.4 L643.9,589.2 L637.3,590.0 L630.8,590.8 L624.3,591.6 L617.7,592.4 L611.2,593.2 L604.6,594.0 L598.1,594.9 L591.6,595.7 L585.0,596.6 L578.5,597.4 L572.0,598.3 L565.4,599.1 L558.9,600.0 L552.3,600.8 L545.8,601.7 L539.3,602.5 L532.7,603.4 L526.2,604.2 L519.7,605.1 L513.1,605.9 L506.6,606.7 L500.0,607.6 L493.5,608.4 L487.0,609.3 L480.4,610.1 L473.9,610.9 L467.3,611.7 L460.8,612.5 L454.3,613.3 L447.7,614.1 L441.2,614.9 L434.7,615.7 L428.1,616.5 L421.6,617.2 L415.0,618.0 L408.5,618.7 L402.0,619.5 L395.4,620.2 L388.9,620.9 L382.4,621.6 L375.8,622.3 L369.3,623.1 L362.7,623.8 L356.2,624.4 L349.7,625.1 L343.1,625.8 L336.6,626.5 L330.1,627.2 L323.5,627.8 L317.0,628.5 L310.4,629.1 L303.9,629.8 L297.4,630.4 L290.8,631.1 L284.3,631.7 L277.8,632.4 L271.2,633.0 L264.7,633.6 L258.1,634.3 L251.6,634.9 L245.1,635.6 L238.5,636.2 L232.0,636.9 L225.5,637.5 L218.9,638.2 L212.4,638.9 L205.8,639.6 L199.3,640.3 L192.8,641.0 L186.2,641.7 L179.7,642.5 L173.2,643.2 L166.6,644.0 L160.1,644.8 L153.5,645.6 L147.0,646.4Z" fill="#619CFF" fill-opacity="0.3"/>
<rect x="1276.5" y="320.0" width="35" height="34.6" fill="#F8766D" fill-opacity="0.5"/>
<rect x="1276.5" y="358.2" width="35" height="34.6" fill="#00BA38" fill-opacity="0.5"/>
<rect x="1276.5" y="396.6" width="35" height="34.6" fill="#619CFF" fill-opacity="0.5"/>
<text x="84" y="30.3" text-anchor="end" font-size="20" fill="#303030">15.0</text>
<text x="84" y="197.7" text-anchor="end" font-size="20" fill="#303030">12.5</text>
<text x="84" y="365.1" text-anchor="end" font-size="20" fill="#303030">10.0</text>
<text x="84" y="532.6" text-anchor="end" font-size="20" fill="#303030">7.5</text>
<text x="84" y="699.9" text-anchor="end" font-size="20" fill="#303030">5.0</text>
<text x="147.0" y="727" text-anchor="middle" font-size="20" fill="#303030">0</text>
<text x="420.4" y="727" text-anchor="middle" font-size="20" fill="#303030">25</text>
<text x="693.9" y="727" text-anchor="middle" font-size="20" fill="#303030">50</text>
<text x="967.3" y="727" text-anchor="middle" font-size="20" fill="#303030">75</text>
<text x="667.3" y="755.1" text-anchor="middle" font-size="24.7" fill="#000">Proportional time (%)</text>
<text transform="translate(34.9,358.2) rotate(-90)" text-anchor="middle" font-size="24.6" fill="#000">Bark</text>
<text x="1275.2" y="304.5" font-size="24.7" fill="#000">Group</text>
<text x="1325" y="345.2" font-size="20" fill="#000">L1</text>
<text x="1325" y="383.4" font-size="20" fill="#000">L2 Adv</text>
<text x="1325" y="421.8" font-size="20" fill="#000">L2 Beg</text>
</svg>
</body></html>
